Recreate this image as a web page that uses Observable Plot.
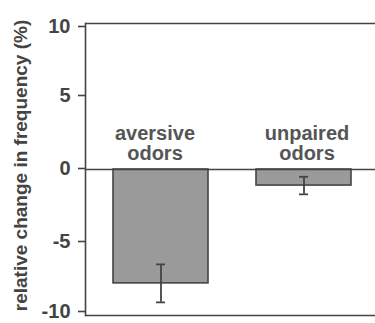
<!DOCTYPE html>
<html>
<head>
<meta charset="utf-8">
<script src="https://cdn.jsdelivr.net/npm/d3@7"></script>
<script src="https://cdn.jsdelivr.net/npm/@observablehq/plot@0.6"></script>
<style>
  html, body { margin: 0; padding: 0; background: #fff; }
  #chart svg { display: block; }
</style>
</head>
<body>
<div id="chart"></div>
<script>
const categories = ["aversive odors", "unpaired odors"];
const barLabels = ["aversive\nodors", "unpaired\nodors"];
const values = [-7.8, -1.1];
const errors = [1.3, 0.6];
const yTicks = [10, 5, 0, -5, -10];
const yLabel = "relative change in frequency (%)";

const data = categories.map((c, i) => ({cat: c, label: barLabels[i], v: values[i], e: errors[i]}));

const ink = "#444";
const font = "'Liberation Sans', Arial, Helvetica, sans-serif";
const axisStyle = {tickFormat: d => String(d), tickSize: 7, tickPadding: 8, fontSize: 20, label: null, stroke: ink, strokeWidth: 1.6, fill: ink};

const chart = Plot.plot({
  width: 375,
  height: 323,
  marginLeft: 85,
  marginRight: 0,
  marginTop: 23,
  marginBottom: 8,
  style: {fontFamily: font, fontWeight: "bold", color: ink, background: "#fff"},
  x: {domain: categories, paddingInner: 0.333, paddingOuter: 0.1736, align: 0.54, axis: null},
  y: {domain: [-10, 10]},
  marks: [
    Plot.ruleY([10, -10], {stroke: ink, strokeWidth: 1.6}),
    Plot.frame({anchor: "left", stroke: ink, strokeWidth: 1.6}),
    Plot.barY(data, {x: "cat", y1: 0, y2: "v", fill: "#9a9a9a", stroke: ink, strokeWidth: 1.6}),
    Plot.ruleY([0], {stroke: ink, strokeWidth: 1.6}),
    Plot.ruleX(data, {x: "cat", y1: d => d.v - d.e, y2: d => d.v + d.e, stroke: ink, strokeWidth: 1.8}),
    Plot.tickY(data, {x: "cat", y: d => d.v + d.e, insetLeft: 43, insetRight: 43, stroke: ink, strokeWidth: 1.8}),
    Plot.tickY(data, {x: "cat", y: d => d.v - d.e, insetLeft: 43, insetRight: 43, stroke: ink, strokeWidth: 1.8}),
    Plot.text(data, {filter: (d, i) => i === 0, x: "cat", y: 0, text: "label", lineAnchor: "bottom", lineHeight: 1.0, dx: -6, dy: -10, fontSize: 20, fontWeight: "bold", fill: "#555"}),
    Plot.text(data, {filter: (d, i) => i === 1, x: "cat", y: 0, text: "label", lineAnchor: "bottom", lineHeight: 1.0, dx: 3, dy: -10, fontSize: 20, fontWeight: "bold", fill: "#555"}),
    Plot.axisY({...axisStyle, ticks: yTicks.slice(0, 1), dy: 3}),
    Plot.axisY({...axisStyle, ticks: yTicks.slice(1, 4), dy: -1}),
    Plot.axisY({...axisStyle, ticks: yTicks.slice(4), dy: -4}),
    Plot.text([yLabel], {frameAnchor: "left", textAnchor: "middle", rotate: -90, dx: -65, dy: -4, fontSize: 19, fontWeight: "bold", fill: ink})
  ]
});
document.getElementById("chart").appendChild(chart);
</script>
</body>
</html>
